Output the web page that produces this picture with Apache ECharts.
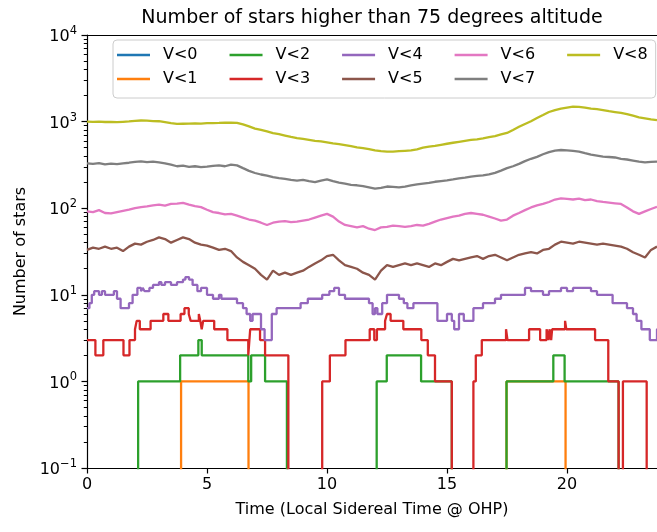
<!DOCTYPE html>
<html>
<head>
<meta charset="utf-8">
<script src="https://cdn.jsdelivr.net/npm/echarts@6/dist/echarts.min.js"></script>
<style>
  html, body { margin: 0; padding: 0; background: #ffffff; }
  #chart { width: 657px; height: 532px; }
</style>
</head>
<body>
<div id="chart"></div>
<script>
// Star counts above 75 deg altitude over one sidereal day (OHP).
const FONT = 'DejaVu Sans';

// Sample times (hours of local sidereal time) for the dense magnitude bins
const sampleHours = [
  0, 0.25, 0.5, 0.75, 1, 1.25, 1.5, 1.75, 2, 2.25, 2.5, 2.75, 3, 3.25, 3.5, 3.75,
  4, 4.25, 4.5, 4.75, 5, 5.25, 5.5, 5.75, 6, 6.25, 6.5, 6.75, 7, 7.25, 7.5, 7.75,
  8, 8.25, 8.5, 8.75, 9, 9.25, 9.5, 9.75, 10, 10.25, 10.5, 10.75, 11, 11.25, 11.5, 11.75,
  12, 12.25, 12.5, 12.75, 13, 13.25, 13.5, 13.75, 14, 14.25, 14.5, 14.75, 15, 15.25, 15.5, 15.75,
  16, 16.25, 16.5, 16.75, 17, 17.25, 17.5, 17.75, 18, 18.25, 18.5, 18.75, 19, 19.25, 19.5, 19.75,
  20, 20.25, 20.5, 20.75, 21, 21.25, 21.5, 21.75, 22, 22.25, 22.5, 22.75, 23, 23.25, 23.5, 23.75
];

const countV8 = [
  1000, 995, 1000, 990, 995, 985, 995, 1005, 1020, 1030, 1025, 1015, 1010, 985, 960, 940,
  945, 950, 955, 950, 958, 962, 965, 970, 975, 965, 930, 880, 830, 800, 770, 735,
  715, 690, 665, 645, 630, 615, 600, 590, 575, 560, 550, 535, 520, 505, 495, 480,
  465, 455, 450, 450, 455, 460, 465, 478, 500, 515, 525, 540, 555, 570, 585, 600,
  615, 625, 640, 660, 680, 710, 740, 800, 870, 940, 1010, 1100, 1190, 1290, 1360, 1410,
  1450, 1490, 1480, 1450, 1410, 1390, 1360, 1320, 1290, 1260, 1220, 1170, 1120, 1090, 1060, 1040
];

const countV7 = [
  330, 325, 332, 320, 328, 322, 330, 335, 342, 348, 340, 345, 338, 330, 318, 305,
  310, 300, 305, 298, 302, 308, 312, 305, 318, 312, 290, 270, 255, 245, 238, 228,
  222, 218, 212, 208, 212, 205, 200, 208, 215, 205, 198, 192, 186, 184, 180, 174,
  168, 172, 178, 176, 174, 178, 183, 188, 192, 196, 202, 206, 210, 215, 221, 226,
  232, 236, 240, 246, 256, 272, 290, 305, 325, 350, 372, 392, 420, 445, 462, 470,
  465, 458, 450, 432, 415, 405, 395, 390, 385, 372, 365, 355, 345, 338, 342, 345
];

const countV6 = [
  92, 90, 95, 88, 87, 90, 93, 96, 100, 103, 105, 108, 110, 107, 112, 113,
  115, 110, 106, 103, 96, 90, 88, 85, 86, 82, 78, 74, 72, 68, 64, 68,
  70, 71, 69, 70, 72, 74, 78, 82, 86, 80, 70, 64, 62, 60, 62, 58,
  56, 60, 61, 63, 62, 61, 62, 64, 63, 66, 70, 74, 77, 80, 82, 86,
  88, 86, 84, 80, 76, 72, 74, 82, 88, 95, 102, 108, 112, 118, 126, 130,
  128, 126, 129, 124, 126, 121, 118, 116, 114, 112, 102, 92, 86, 92, 98, 104
];

const countV5 = [
  33, 35, 34, 36, 34, 35, 32, 36, 39, 38, 41, 43, 46, 44, 40, 43,
  46, 44, 40, 38, 37, 35, 33, 34, 32, 27, 24, 22, 20, 17, 15, 19,
  17, 18, 17, 18, 19, 21, 23, 25, 28, 29, 25, 22, 21, 20, 18, 17,
  15, 19, 22, 21, 22, 23, 22, 23, 22, 21, 23, 22, 24, 26, 25, 26,
  27, 28, 26, 28, 29, 27, 25, 27, 29, 30, 31, 30, 33, 34, 38, 41,
  40, 39, 41, 40, 39, 38, 39, 38, 37, 36, 34, 31, 29, 27, 33, 36
];

// Bright bins change rarely: [hour, count] at each change of the count
const countV4 = [
  [0, 7], [0.1, 8], [0.2, 10], [0.3, 11], [0.5, 10], [0.62, 11], [0.75, 10], [1.0, 10], [1.12, 11],
  [1.25, 9], [1.4, 7], [1.6, 7], [1.75, 8], [1.9, 10], [2.1, 12], [2.25, 11], [2.32, 12], [2.4, 11],
  [2.6, 12], [2.75, 13], [3.0, 14], [3.1, 13], [3.25, 14], [3.5, 13], [3.75, 14], [4.0, 15],
  [4.1, 16], [4.25, 15], [4.4, 13], [4.6, 11], [4.75, 12], [5.0, 10], [5.25, 9], [5.5, 10],
  [5.6, 9], [6.0, 9], [6.25, 8], [6.5, 7], [6.65, 6], [6.8, 5], [6.9, 6], [7.1, 6], [7.25, 4],
  [7.4, 3], [7.55, 3], [7.7, 6], [7.9, 7], [8.1, 7], [8.4, 7], [8.6, 7], [8.9, 8], [9.2, 9],
  [9.5, 9], [9.8, 10], [10.1, 11], [10.3, 12], [10.5, 10], [10.75, 9], [11.0, 9], [11.25, 9],
  [11.5, 9], [11.75, 8], [11.9, 6], [12.0, 7], [12.1, 6], [12.3, 8], [12.5, 10], [12.75, 10],
  [13.0, 9], [13.2, 8], [13.35, 7], [13.6, 8], [14.0, 8], [14.4, 8], [14.6, 5], [14.8, 5],
  [15.0, 6], [15.2, 5], [15.3, 4], [15.5, 6], [15.7, 5], [15.9, 5], [16.1, 7], [16.3, 7],
  [16.5, 8], [16.75, 8], [17.0, 9], [17.25, 10], [17.5, 10], [17.75, 10], [18.0, 10], [18.25, 12],
  [18.5, 11], [18.75, 11], [19.0, 10], [19.25, 11], [19.5, 11], [19.75, 12], [20.0, 11],
  [20.25, 12], [20.5, 12], [20.75, 12], [21.0, 11], [21.25, 10], [21.5, 10], [21.75, 10],
  [21.9, 8], [22.2, 8], [22.5, 7], [22.75, 6], [22.9, 5], [23.1, 4], [23.3, 4], [23.45, 3],
  [23.6, 3], [23.75, 4], [24, 4]
];

const countV3 = [
  [0, 3], [0.35, 2], [0.68, 3], [1.52, 2], [1.77, 3], [2.0, 4], [2.07, 5], [2.2, 4], [2.65, 5],
  [3.18, 6], [3.39, 5], [3.9, 6], [4.06, 7], [4.24, 6], [4.32, 5], [4.66, 6], [4.72, 5],
  [4.78, 4], [4.84, 5], [5.3, 4], [5.85, 3], [6.72, 2], [6.8, 4], [7.21, 3], [7.42, 2],
  [8.39, 0], [9.8, 1], [10.12, 2], [10.77, 3], [11.78, 4], [11.97, 3], [12.08, 4], [12.42, 5],
  [12.5, 6], [12.65, 5], [13.18, 4], [13.93, 3], [14.2, 2], [14.5, 1], [15.2, 0], [16.1, 1],
  [16.2, 2], [16.45, 3], [17.46, 4], [17.52, 3], [18.42, 4], [18.88, 3], [19.15, 4], [19.23, 3],
  [19.27, 4], [19.34, 3], [19.38, 4], [19.92, 5], [19.97, 4], [21.17, 3], [21.72, 1], [22.15, 0],
  [22.33, 1], [23.32, 0], [24, 0]
];

const countV2 = [
  [0, 0], [2.13, 1], [3.88, 2], [4.64, 3], [4.78, 2], [6.72, 1], [6.84, 2], [7.42, 1], [8.33, 0],
  [12.07, 1], [12.49, 2], [13.92, 1], [15.2, 0], [17.48, 1], [19.43, 2], [19.9, 1], [22.15, 0],
  [24, 0]
];

const countV1 = [
  [0, 0], [3.92, 1], [6.73, 0], [17.48, 1], [19.94, 0], [24, 0]
];

const countV0 = [
  [0, 0], [24, 0]
];

const seriesNames = ['V<0', 'V<1', 'V<2', 'V<3', 'V<4', 'V<5', 'V<6', 'V<7', 'V<8'];
const seriesColors = ['#1f77b4', '#ff7f0e', '#2ca02c', '#d62728', '#9467bd',
                      '#8c564b', '#e377c2', '#7f7f7f', '#bcbd22'];

const xTickValues = [0, 5, 10, 15, 20];
const yTickValues = [0.1, 1, 10, 100, 1000, 10000];

// A count of zero has no place on a log axis; park it far below the
// axis floor so the drop-outs run off the bottom of the plot.
const ZERO_FLOOR = 1e-3;
const onLog = v => (v > 0 ? v : ZERO_FLOOR);

const yMinorTicks = [];
for (let e = -1; e < 4; e++) {
  for (let k = 2; k <= 9; k++) yMinorTicks.push(k * Math.pow(10, e));
}

// "10" with the exponent set as a superscript
const powerLabel = v => {
  const e = Math.round(Math.log10(v));
  return '{b|10}{s|' + (e < 0 ? '\u2212' + (-e) : e) + '}';
};

const stepSets = [countV0, countV1, countV2, countV3, countV4];
const sampledSets = [countV5, countV6, countV7, countV8];

const series = seriesNames.map((name, i) => {
  let data;
  let step = false;
  if (i < stepSets.length) {
    data = stepSets[i].map(([t, c]) => [t, onLog(c)]);
    step = 'end';
  } else {
    const vals = sampledSets[i - stepSets.length];
    data = sampleHours.map((t, j) => [t, onLog(vals[j])]);
  }
  return {
    name,
    type: 'line',
    data,
    step,
    symbol: 'none',
    clip: true,
    silent: true,
    z: 2 + i * 0.01,
    lineStyle: { color: seriesColors[i], width: 2.3 },
    itemStyle: { color: seriesColors[i] },
    emphasis: { disabled: true }
  };
});

const legendBase = {
  orient: 'horizontal',
  icon: 'rect',
  itemWidth: 33,
  itemHeight: 2.3,
  itemGap: 32,
  selectedMode: false,
  textStyle: { fontFamily: FONT, fontSize: 16, color: '#000', padding: [0, 0, 0, 8] }
};

const option = {
  animation: false,
  textStyle: { fontFamily: FONT },
  title: {
    text: 'Number of stars higher than 75 degrees altitude',
    left: 372,
    top: 9,
    textAlign: 'center',
    padding: 0,
    textStyle: { fontFamily: FONT, fontSize: 19, fontWeight: 'normal', color: '#000' }
  },
  legend: [
    Object.assign({}, legendBase, {
      data: ['V<0', 'V<2', 'V<4', 'V<6', 'V<8'],
      left: 113,
      top: 40,
      padding: [7, 8, 35, 4],
      backgroundColor: 'rgba(255,255,255,0.8)',
      borderColor: '#cccccc',
      borderWidth: 1,
      borderRadius: 4,
      z: 4
    }),
    Object.assign({}, legendBase, {
      data: ['V<1', 'V<3', 'V<5', 'V<7'],
      left: 117,
      top: 71,
      padding: 0,
      z: 6
    })
  ],
  grid: { left: 87, right: 0, top: 35, bottom: 64 },
  xAxis: [
    {
      type: 'value',
      min: 0,
      max: 23.75,
      position: 'bottom',
      name: 'Time (Local Sidereal Time @ OHP)',
      nameLocation: 'middle',
      nameGap: 34,
      nameTextStyle: { fontFamily: FONT, fontSize: 16, color: '#000' },
      axisLine: { onZero: false, lineStyle: { color: '#000', width: 1.2 } },
      axisTick: { customValues: xTickValues, length: 5.5, lineStyle: { color: '#000', width: 1.2 } },
      axisLabel: { customValues: xTickValues, margin: 9, fontFamily: FONT, fontSize: 16, color: '#000' },
      splitLine: { show: false }
    },
    {
      type: 'value',
      min: 0,
      max: 23.75,
      position: 'top',
      axisLine: { onZero: false, lineStyle: { color: '#000', width: 1.2 } },
      axisTick: { show: false },
      axisLabel: { show: false },
      splitLine: { show: false }
    }
  ],
  yAxis: [
    {
      type: 'log',
      logBase: 10,
      min: 0.1,
      max: 10000,
      position: 'left',
      name: 'Number of stars',
      nameLocation: 'middle',
      nameGap: 57,
      nameTextStyle: { fontFamily: FONT, fontSize: 16, color: '#000' },
      axisLine: { onZero: false, lineStyle: { color: '#000', width: 1.2 } },
      axisTick: { customValues: yTickValues, length: 5.5, lineStyle: { color: '#000', width: 1.2 } },
      axisLabel: {
        customValues: yTickValues, margin: 10, color: '#000',
        formatter: powerLabel,
        rich: {
          b: { fontFamily: FONT, fontSize: 16, lineHeight: 20, verticalAlign: 'bottom', color: '#000' },
          s: { fontFamily: FONT, fontSize: 11.5, lineHeight: 10, verticalAlign: 'top', color: '#000' }
        }
      },
      splitLine: { show: false }
    },
    {
      type: 'log',
      logBase: 10,
      min: 0.1,
      max: 10000,
      position: 'left',
      axisLine: { show: false },
      axisTick: { customValues: yMinorTicks, length: 3.2, lineStyle: { color: '#000', width: 1 } },
      axisLabel: { show: false },
      splitLine: { show: false }
    }
  ],
  series
};

const chart = echarts.init(document.getElementById('chart'), null, { renderer: 'canvas' });
chart.setOption(option);
</script>
</body>
</html>
